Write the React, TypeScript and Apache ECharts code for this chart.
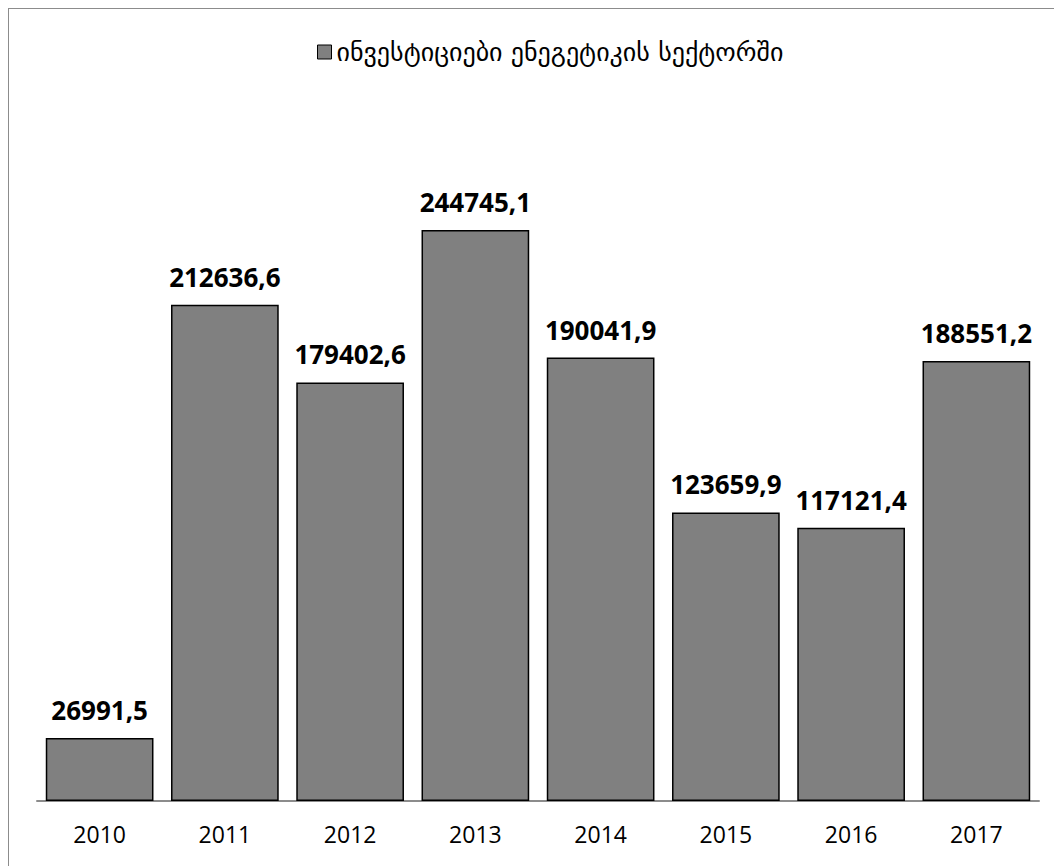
import React, { useEffect, useRef } from "react";
import * as echarts from "echarts";

const categories = ["2010", "2011", "2012", "2013", "2014", "2015", "2016", "2017"];
const values = [26991.5, 212636.6, 179402.6, 244745.1, 190041.9, 123659.9, 117121.4, 188551.2];
const seriesName = "ინვესტიციები ენეგეტიკის სექტორში";

export default function App() {
  const ref = useRef<HTMLDivElement>(null);
  useEffect(() => {
    if (!ref.current) return;
    const chart = echarts.init(ref.current, undefined, { renderer: "svg" });
    chart.setOption({
      animation: false,
      backgroundColor: "#ffffff",
      graphic: [
        { type: "line", shape: { x1: 0, y1: 0, x2: 1054, y2: 0 }, style: { stroke: "#8c8c8c", lineWidth: 2 } },
        { type: "line", shape: { x1: 0, y1: 0, x2: 0, y2: 858 }, style: { stroke: "#8c8c8c", lineWidth: 2 } },
      ],
      legend: {
        top: 26,
        left: 304,
        itemWidth: 14,
        itemHeight: 14,
        itemGap: 4,
        icon: "rect",
        textStyle: { fontFamily: "DejaVu Sans", fontSize: 26, color: "#000" },
        data: [{ name: seriesName, itemStyle: { color: "#808080", borderColor: "#000", borderWidth: 1 } }],
      },
      grid: { left: 29, right: 23, top: 93, bottom: 65 },
      xAxis: {
        type: "category",
        data: categories,
        axisLine: { lineStyle: { color: "#8c8c8c", width: 2 } },
        axisTick: { show: false },
        axisLabel: { fontFamily: "Open Sans", fontSize: 23, color: "#000", margin: 21 },
      },
      yAxis: {
        type: "value",
        min: 0,
        max: 300000,
        show: false,
        splitLine: { show: false },
      },
      series: [
        {
          name: seriesName,
          type: "bar",
          data: values,
          barCategoryGap: "14%",
          itemStyle: { color: "#808080", borderColor: "#000", borderWidth: 1.5 },
          label: {
            show: true,
            position: "top",
            distance: 15,
            fontFamily: "Open Sans",
            fontWeight: "bold",
            fontSize: 26,
            color: "#000",
            formatter: (p: any) => p.value.toFixed(1).replace(".", ","),
          },
        },
      ],
    });
    return () => chart.dispose();
  }, []);
  return <div ref={ref} style={{ width: 1054, height: 858 }} />;
}
